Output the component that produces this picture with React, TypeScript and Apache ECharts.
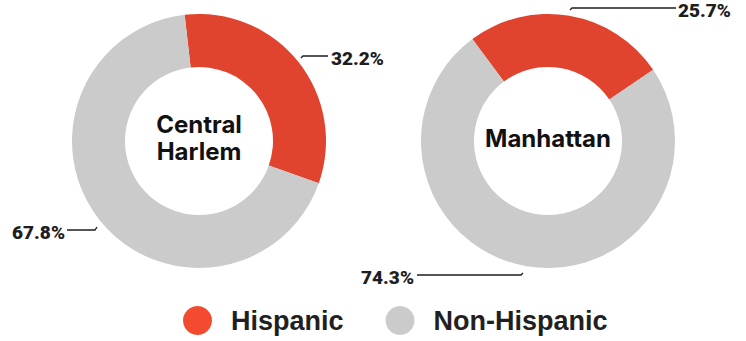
import React, { useEffect, useRef } from "react";
import * as echarts from "echarts";

// ---- data ----
const categories = ["Hispanic", "Non-Hispanic"];
const regions = ["Central\nHarlem", "Manhattan"];
const centralHarlemValues = [32.2, 67.8];
const manhattanValues = [25.7, 74.3];

// ---- layout / style ----
const W = 746;
const H = 341;
const centers: [number, number][] = [
  [199, 141],
  [548, 141],
];
const startAngles = [96.5, 126.6];
const radius = [74, 127];
const sliceColors = ["#e0442e", "#cbcbcb"];
const legendColors = ["#f24b2f", "#cbcbcb"];
const labelFont = "Roboto";
const ink = "#1e1e1e";

// label anchor + leader line, per [series][dataIndex]
const labelPlacement = [
  [
    { x: 331, y: 58, align: "left", line: [[301, 58], [303, 56], [328, 56]] },
    { x: 65, y: 232, align: "right", line: [[97, 227], [95, 230], [67, 230]] },
  ],
  [
    { x: 678, y: 10, align: "left", line: [[570, 10], [572, 8], [676, 8]] },
    { x: 414, y: 277, align: "right", line: [[523, 273], [521, 275], [417, 275]] },
  ],
];

export default function App() {
  const ref = useRef<HTMLDivElement>(null);

  useEffect(() => {
    if (!ref.current) return;
    const chart = echarts.init(ref.current, undefined, { renderer: "svg" });

    const seriesValues = [centralHarlemValues, manhattanValues];

    const series = seriesValues.map((vals, si) => ({
      type: "pie",
      center: centers[si],
      radius,
      startAngle: startAngles[si],
      clockwise: true,
      avoidLabelOverlap: false,
      silent: true,
      data: vals.map((v, i) => ({
        name: categories[i],
        value: v,
        itemStyle: { color: sliceColors[i] },
      })),
      label: {
        show: true,
        position: "outside",
        formatter: (p: any) => `${p.value.toFixed(1)}%`,
        fontFamily: labelFont,
        fontWeight: 900,
        fontSize: 19,
        color: ink,
      },
      labelLine: {
        show: true,
        smooth: false,
        lineStyle: { color: ink, width: 1.3 },
      },
      labelLayout: (params: any) => {
        const pl = labelPlacement[si][params.dataIndex];
        return {
          x: pl.x,
          y: pl.y,
          align: pl.align,
          verticalAlign: "middle",
          labelLinePoints: pl.line,
        };
      },
      emphasis: { disabled: true },
    }));

    chart.setOption({
      animation: false,
      backgroundColor: "#ffffff",
      legend: {
        left: 183,
        top: 306,
        padding: 0,
        icon: "circle",
        itemWidth: 29,
        itemHeight: 29,
        itemGap: 42,
        selectedMode: false,
        data: categories.map((c, i) => ({
          name: c,
          itemStyle: { color: legendColors[i] },
        })),
        textStyle: {
          fontFamily: "Liberation Sans",
          fontWeight: "bold",
          fontSize: 27,
          color: "#231f20",
          padding: [3, 0, 0, 14],
        },
      },
      graphic: regions.map((r, i) => ({
        type: "text",
        x: centers[i][0],
        y: 138,
        style: {
          text: r,
          fontFamily: "Inter",
          fontWeight: "bold",
          fontSize: 24,
          lineHeight: 27,
          fill: "#111111",
          align: "center",
          verticalAlign: "middle",
        },
      })),
      series,
    });

    return () => chart.dispose();
  }, []);

  return (
    <div
      ref={ref}
      style={{ position: "absolute", left: 0, top: 0, width: W, height: H }}
    />
  );
}
